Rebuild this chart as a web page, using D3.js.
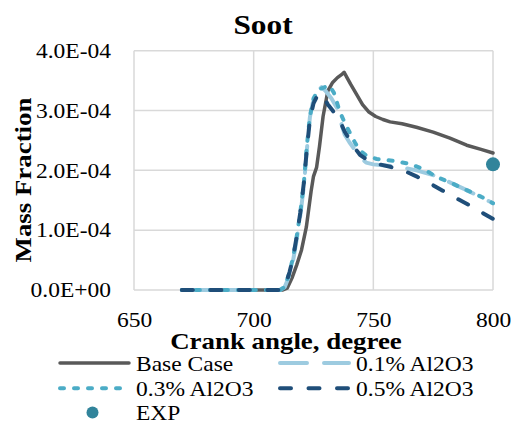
<!DOCTYPE html>
<html>
<head>
<meta charset="utf-8">
<script src="https://cdn.jsdelivr.net/npm/d3@7"></script>
<style>
  html, body { margin: 0; padding: 0; background: #fff; }
  text { font-family: "Liberation Serif", "Times New Roman", serif; fill: #000; }
</style>
</head>
<body>
<svg id="chart" width="513" height="422"></svg>
<script>
// ---------------- DATA ----------------
const title = "Soot";
const xTitle = "Crank angle, degree";
const yTitle = "Mass Fraction";
const xTicks = [650, 700, 750, 800];
const yTicks = [0, 1e-4, 2e-4, 3e-4, 4e-4];

const baseAngle = [670, 712, 714, 716, 718, 720, 722, 724, 725, 726.3, 727.5, 729, 731, 733, 735, 737, 737.8, 739, 740.5, 743, 745.5, 748, 751, 754, 757, 762, 768, 775, 782, 789, 795, 800];
const baseValue = [0, 0, 0.03e-4, 0.2e-4, 0.42e-4, 0.67e-4, 1.05e-4, 1.65e-4, 1.9e-4, 2.05e-4, 2.4e-4, 2.9e-4, 3.33e-4, 3.47e-4, 3.55e-4, 3.61e-4, 3.64e-4, 3.55e-4, 3.44e-4, 3.27e-4, 3.1e-4, 2.98e-4, 2.9e-4, 2.85e-4, 2.81e-4, 2.78e-4, 2.72e-4, 2.64e-4, 2.54e-4, 2.42e-4, 2.35e-4, 2.29e-4];

const al01Angle = [670, 711, 713, 715, 716.5, 718, 719.5, 721, 722.2, 723.5, 724.9, 726.5, 728.4, 730, 732.5, 734.7, 736.5, 738, 740, 742, 744.4, 747, 750, 755, 762, 768, 775, 782, 789, 795, 800];
const al01Value = [0, 0, 0.05e-4, 0.25e-4, 0.5e-4, 0.85e-4, 1.25e-4, 1.75e-4, 2.33e-4, 2.89e-4, 3.17e-4, 3.33e-4, 3.39e-4, 3.33e-4, 3.2e-4, 3.05e-4, 2.8e-4, 2.6e-4, 2.47e-4, 2.36e-4, 2.22e-4, 2.13e-4, 2.1e-4, 2.08e-4, 2.05e-4, 2.0e-4, 1.92e-4, 1.8e-4, 1.67e-4, 1.55e-4, 1.45e-4];

const al03Angle = [670, 711, 713, 715, 716.5, 718, 719.5, 721, 722.2, 723.5, 725, 727, 729, 731.5, 733.5, 736, 738, 740.3, 742.5, 744.4, 747, 751.4, 758, 765, 771, 776.5, 783, 789, 795, 800];
const al03Value = [0, 0, 0.05e-4, 0.3e-4, 0.55e-4, 0.9e-4, 1.3e-4, 1.8e-4, 2.4e-4, 2.9e-4, 3.2e-4, 3.35e-4, 3.38e-4, 3.42e-4, 3.3e-4, 2.98e-4, 2.8e-4, 2.62e-4, 2.45e-4, 2.33e-4, 2.25e-4, 2.19e-4, 2.16e-4, 2.11e-4, 2.02e-4, 1.89e-4, 1.78e-4, 1.67e-4, 1.56e-4, 1.45e-4];

const al05Angle = [670, 711, 713, 715, 716.5, 718, 719.5, 721, 722.2, 723.5, 725, 727, 729.1, 731, 733, 736, 738, 740.3, 742.5, 744.4, 748, 751.4, 757, 762.5, 768, 773.7, 779, 784.8, 790, 796, 800];
const al05Value = [0, 0, 0.05e-4, 0.3e-4, 0.55e-4, 0.9e-4, 1.3e-4, 1.8e-4, 2.35e-4, 2.85e-4, 3.12e-4, 3.28e-4, 3.24e-4, 3.1e-4, 3.0e-4, 2.83e-4, 2.65e-4, 2.5e-4, 2.36e-4, 2.26e-4, 2.16e-4, 2.11e-4, 2.06e-4, 2.0e-4, 1.9e-4, 1.78e-4, 1.66e-4, 1.53e-4, 1.42e-4, 1.28e-4, 1.19e-4];

const expAngle = [800];
const expValue = [2.1e-4];

const seriesNames = ["Base Case", "0.1% Al2O3", "0.3% Al2O3", "0.5% Al2O3", "EXP"];

// ---------------- STYLES ----------------
const SX = 1.12; // horizontal text stretch
const lineStyles = [
  { name: seriesNames[0], ang: baseAngle, val: baseValue, color: "#595959", width: 3.5, dash: null, cap: "round" },
  { name: seriesNames[1], ang: al01Angle, val: al01Value, color: "#9dcbe0", width: 4, dash: "27,17", cap: "round" },
  { name: seriesNames[2], ang: al03Angle, val: al03Value, color: "#4bacc6", width: 4, dash: "4,10", cap: "round" },
  { name: seriesNames[3], ang: al05Angle, val: al05Value, color: "#1f4e79", width: 4, dash: "11,17.5", cap: "round" }
];
const expColor = "#31849b";

// ---------------- CHART ----------------
const svg = d3.select("#chart");
svg.append("rect").attr("width", 513).attr("height", 422).attr("fill", "#fff");

const x = d3.scaleLinear().domain([650, 800]).range([134, 493]);
const y = d3.scaleLinear().domain([0, 4e-4]).range([290, 50.7]);

function fmtE(d) {
  const s = d.toExponential(1).split("e");
  const e = +s[1];
  return s[0] + "E" + (e < 0 ? "-" : "+") + String(Math.abs(e)).padStart(2, "0");
}

// gridlines
const grid = svg.append("g");
grid.selectAll("line.h").data(yTicks).join("line")
  .attr("x1", x.range()[0]).attr("x2", x.range()[1])
  .attr("y1", d => y(d)).attr("y2", d => y(d))
  .attr("stroke", "#d9d9d9").attr("stroke-width", 1.5);
grid.selectAll("line.v").data(xTicks).join("line")
  .attr("x1", d => x(d)).attr("x2", d => x(d))
  .attr("y1", y.range()[0]).attr("y2", y.range()[1])
  .attr("stroke", "#d9d9d9").attr("stroke-width", 1.5);

// axes labels
const xAxis = svg.append("g").attr("transform", `translate(0,${y.range()[0]})`)
  .call(d3.axisBottom(x).tickValues(xTicks).tickSize(0).tickPadding(22).tickFormat(d3.format("d")));
const yAxis = svg.append("g").attr("transform", `translate(${x.range()[0]},0)`)
  .call(d3.axisLeft(y).tickValues(yTicks).tickSize(0).tickPadding(20.5).tickFormat(fmtE));
[xAxis, yAxis].forEach(a => {
  a.select(".domain").remove();
  a.selectAll("text").attr("font-size", 21).attr("fill", "#000")
    .attr("font-family", "'Liberation Serif', 'Times New Roman', serif")
    .attr("transform", `scale(${SX},1)`);
});

// lines
const lineGen = d3.line().x(d => x(d[0])).y(d => y(d[1]));
lineStyles.forEach(s => {
  const pts = s.ang.map((a, i) => [a, s.val[i]]);
  svg.append("path").datum(pts)
    .attr("d", lineGen)
    .attr("fill", "none")
    .attr("stroke", s.color)
    .attr("stroke-width", s.width)
    .attr("stroke-linejoin", "round")
    .attr("stroke-linecap", s.cap)
    .attr("stroke-dasharray", s.dash);
});

// EXP point
svg.append("g").selectAll("circle").data(expAngle.map((a, i) => [a, expValue[i]])).join("circle")
  .attr("cx", d => x(d[0])).attr("cy", d => y(d[1])).attr("r", 7).attr("fill", expColor);

// text helper
function txt(str, tx, ty, size, opts = {}) {
  const g = svg.append("g").attr("transform", `translate(${tx},${ty})${opts.rotate ? ` rotate(${opts.rotate})` : ""} scale(${SX},1)`);
  g.append("text").text(str)
    .attr("font-size", size)
    .attr("font-weight", opts.bold ? "bold" : "normal")
    .attr("text-anchor", opts.anchor || "start");
  return g;
}

txt(title, 263, 34, 28, { bold: true, anchor: "middle" });
txt(xTitle, 286, 348.5, 24, { bold: true, anchor: "middle" });
txt(yTitle, 31, 180, 24, { bold: true, anchor: "middle", rotate: -90 });

// legend
const legendItems = [
  { s: lineStyles[0], col: 0, row: 0 },
  { s: lineStyles[1], col: 1, row: 0 },
  { s: lineStyles[2], col: 0, row: 1 },
  { s: lineStyles[3], col: 1, row: 1 },
  { s: null, col: 0, row: 2, name: seriesNames[4] }
];
const colX = [60, 280];
const rowY = [363, 388.3, 412.5];
const lineLen = 69;
legendItems.forEach(it => {
  const lx = colX[it.col], ly = rowY[it.row];
  if (it.s) {
    svg.append("line").attr("x1", lx).attr("x2", lx + lineLen).attr("y1", ly).attr("y2", ly)
      .attr("stroke", it.s.color).attr("stroke-width", it.s.width)
      .attr("stroke-linecap", "round").attr("stroke-dasharray", it.s.dash);
  } else {
    svg.append("circle").attr("cx", lx + lineLen / 2 - 2).attr("cy", ly).attr("r", 6).attr("fill", expColor);
  }
  txt(it.s ? it.s.name : it.name, lx + lineLen + 7, ly + 7.5, 21);
});
</script>
</body>
</html>
